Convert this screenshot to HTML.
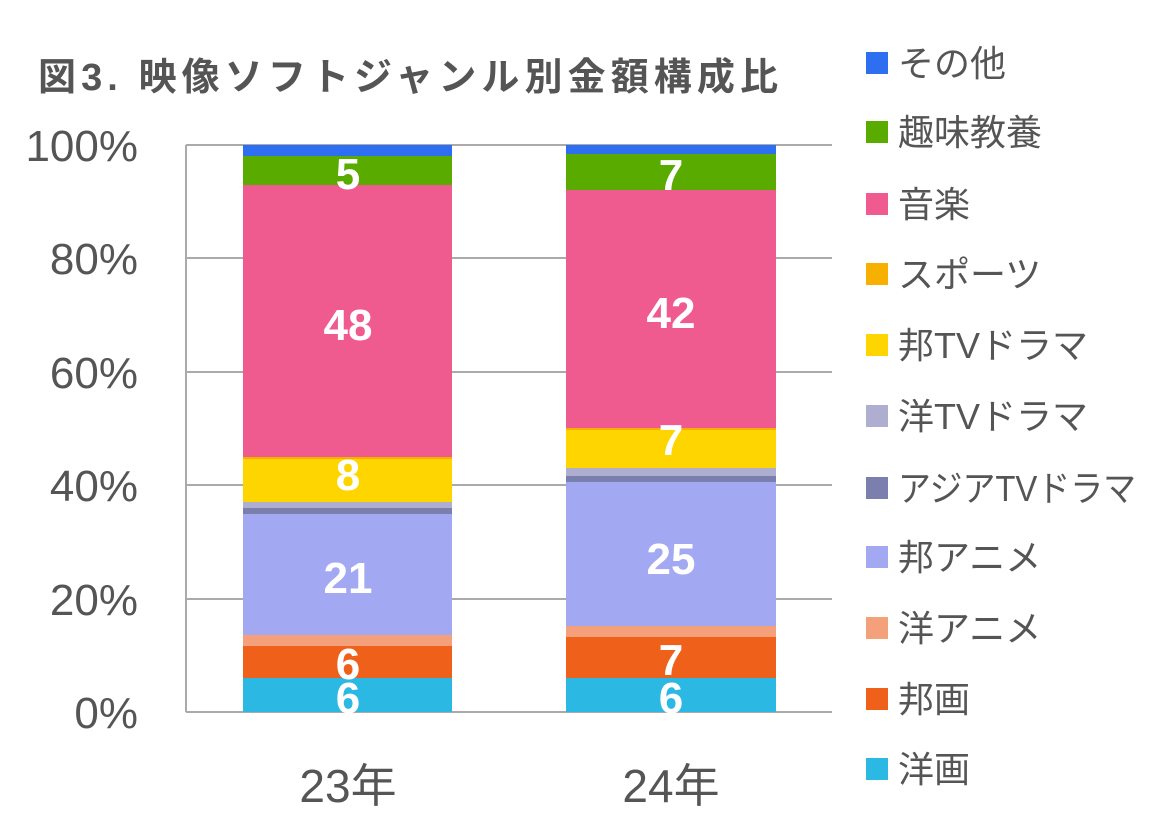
<!DOCTYPE html>
<html><head><meta charset="utf-8"><style>
body{margin:0;background:#fff;}
svg text{font-family:"Liberation Sans","Noto Sans CJK JP",sans-serif;}
</style></head><body>
<svg width="1172" height="827" xmlns="http://www.w3.org/2000/svg">
<text x="38" y="90" font-size="38" font-weight="bold" fill="#555" textLength="740" lengthAdjust="spacing">図3.  映像ソフトジャンル別金額構成比</text>
<g stroke="#aaa" stroke-width="2">
<line x1="186" y1="145" x2="832" y2="145"/><line x1="186" y1="258" x2="832" y2="258"/>
<line x1="186" y1="372" x2="832" y2="372"/><line x1="186" y1="485" x2="832" y2="485"/>
<line x1="186" y1="599" x2="832" y2="599"/><line x1="186" y1="712" x2="832" y2="712"/>
<line x1="186" y1="145" x2="186" y2="712"/>
</g>
<g font-size="44" fill="#555" text-anchor="end">
<text x="138" y="161">100%</text><text x="138" y="274">80%</text><text x="138" y="388">60%</text>
<text x="138" y="501">40%</text><text x="138" y="615">20%</text><text x="138" y="728">0%</text>
</g>
<g font-size="46" fill="#555" text-anchor="middle">
<text x="348" y="802">23年</text><text x="671" y="802">24年</text>
</g>
<g>
<rect x="243" y="145" width="209" height="11" fill="#2e6ef0"/>
<rect x="243" y="156" width="209" height="29" fill="#5aab00"/>
<rect x="243" y="185" width="209" height="272" fill="#ef5a8f"/>
<rect x="243" y="457" width="209" height="2" fill="#f7b000"/>
<rect x="243" y="459" width="209" height="43" fill="#ffd500"/>
<rect x="243" y="502" width="209" height="6" fill="#aeaed0"/>
<rect x="243" y="508" width="209" height="6" fill="#7a7fad"/>
<rect x="243" y="514" width="209" height="121" fill="#a2a8f2"/>
<rect x="243" y="635" width="209" height="11" fill="#f4a07a"/>
<rect x="243" y="646" width="209" height="32" fill="#ef611a"/>
<rect x="243" y="678" width="209" height="34" fill="#2bb8e3"/>

<rect x="566" y="145" width="210" height="9" fill="#2e6ef0"/>
<rect x="566" y="154" width="210" height="36" fill="#5aab00"/>
<rect x="566" y="190" width="210" height="238" fill="#ef5a8f"/>
<rect x="566" y="428" width="210" height="2" fill="#f7b000"/>
<rect x="566" y="430" width="210" height="38" fill="#ffd500"/>
<rect x="566" y="468" width="210" height="8" fill="#aeaed0"/>
<rect x="566" y="476" width="210" height="6" fill="#7a7fad"/>
<rect x="566" y="482" width="210" height="144" fill="#a2a8f2"/>
<rect x="566" y="626" width="210" height="11" fill="#f4a07a"/>
<rect x="566" y="637" width="210" height="41" fill="#ef611a"/>
<rect x="566" y="678" width="210" height="34" fill="#2bb8e3"/>
</g>
<g font-size="44" font-weight="bold" fill="#fff" text-anchor="middle">
<text x="348" y="189">5</text><text x="348" y="340">48</text><text x="348" y="490">8</text>
<text x="348" y="593">21</text><text x="348" y="679">6</text><text x="348" y="713">6</text>
<text x="671" y="190">7</text><text x="671" y="328">42</text><text x="671" y="455">7</text>
<text x="671" y="574">25</text><text x="671" y="675">7</text><text x="671" y="713">6</text>
</g>
<g font-size="36" fill="#555">
<rect x="866" y="52" width="22" height="22" fill="#2e6ef0"/><text x="898" y="76">その他</text>
<rect x="866" y="121" width="22" height="22" fill="#5aab00"/><text x="898" y="145">趣味教養</text>
<rect x="866" y="193" width="22" height="22" fill="#ef5a8f"/><text x="898" y="217">音楽</text>
<rect x="866" y="263" width="22" height="22" fill="#f7b000"/><text x="898" y="287">スポーツ</text>
<rect x="866" y="334" width="22" height="22" fill="#ffd500"/><text x="898" y="358">邦TVドラマ</text>
<rect x="866" y="405" width="22" height="22" fill="#aeaed0"/><text x="898" y="429">洋TVドラマ</text>
<rect x="866" y="477" width="22" height="22" fill="#7a7fad"/><text x="898" y="501" textLength="238" lengthAdjust="spacingAndGlyphs">アジアTVドラマ</text>
<rect x="866" y="546" width="22" height="22" fill="#a2a8f2"/><text x="898" y="570">邦アニメ</text>
<rect x="866" y="617" width="22" height="22" fill="#f4a07a"/><text x="898" y="641">洋アニメ</text>
<rect x="866" y="688" width="22" height="22" fill="#ef611a"/><text x="898" y="712">邦画</text>
<rect x="866" y="758" width="22" height="22" fill="#2bb8e3"/><text x="898" y="782">洋画</text>
</g>
</svg>
</body></html>
